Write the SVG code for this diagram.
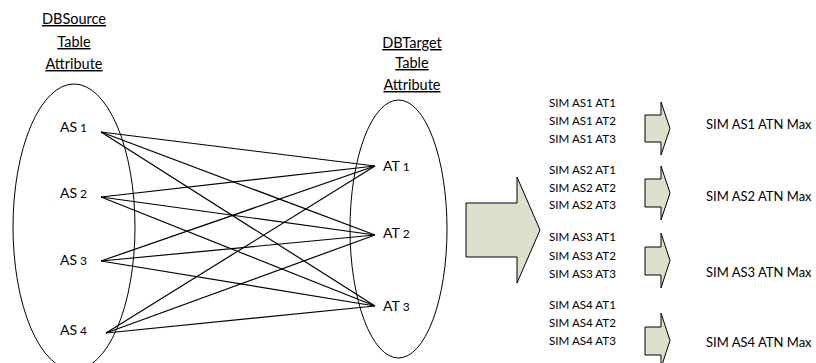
<svg xmlns="http://www.w3.org/2000/svg" width="816" height="363" viewBox="0 0 816 363">
  <style>
    .lbl { font-family: Lato, "Liberation Sans", sans-serif; fill: #000; }
    .head { font-size: 14.5px; text-decoration: underline; text-anchor: middle; }
    .node { font-size: 14px; }
    .num { font-size: 12px; }
    .sim { font-size: 11.6px; }
    .max { font-size: 13px; }
    .set { fill: none; stroke: #000; stroke-width: 1; }
    .link { stroke: #000; stroke-width: 1.2; fill: none; }
    .arrow { fill: #dde1cc; stroke: #000; stroke-width: 1; }
  </style>

  <!-- source attribute set -->
  <g id="source">
    <text class="lbl head" x="74" y="24">DBSource</text>
    <text class="lbl head" x="74" y="47">Table</text>
    <text class="lbl head" x="74" y="69">Attribute</text>
    <ellipse class="set" cx="74" cy="227" rx="61" ry="143"/>
  </g>
  <g id="AS1"><text class="lbl node" x="60" y="132">AS<tspan class="num" dx="3">1</tspan></text></g>
  <g id="AS2"><text class="lbl node" x="60" y="198">AS<tspan class="num" dx="3">2</tspan></text></g>
  <g id="AS3"><text class="lbl node" x="60" y="265">AS<tspan class="num" dx="3">3</tspan></text></g>
  <g id="AS4"><text class="lbl node" x="60" y="335">AS<tspan class="num" dx="3">4</tspan></text></g>

  <!-- target attribute set -->
  <g id="target">
    <text class="lbl head" x="412" y="48">DBTarget</text>
    <text class="lbl head" x="412" y="68">Table</text>
    <text class="lbl head" x="412" y="90">Attribute</text>
    <ellipse class="set" cx="398.5" cy="229" rx="48.5" ry="129"/>
  </g>
  <g id="AT1"><text class="lbl node" x="383" y="171">AT<tspan class="num" dx="3">1</tspan></text></g>
  <g id="AT2"><text class="lbl node" x="383" y="238">AT<tspan class="num" dx="3">2</tspan></text></g>
  <g id="AT3"><text class="lbl node" x="383" y="311">AT<tspan class="num" dx="3">3</tspan></text></g>

  <!-- every source attribute linked to every target attribute -->
  <g id="connectors">
    <line class="link" x1="101" y1="132" x2="375" y2="166"/>
    <line class="link" x1="101" y1="132" x2="375" y2="235"/>
    <line class="link" x1="101" y1="132" x2="375" y2="306"/>
    <line class="link" x1="101" y1="197" x2="375" y2="166"/>
    <line class="link" x1="101" y1="197" x2="375" y2="235"/>
    <line class="link" x1="101" y1="197" x2="375" y2="306"/>
    <line class="link" x1="101" y1="261" x2="375" y2="166"/>
    <line class="link" x1="101" y1="261" x2="375" y2="235"/>
    <line class="link" x1="101" y1="261" x2="375" y2="306"/>
    <line class="link" x1="106" y1="333" x2="375" y2="166"/>
    <line class="link" x1="106" y1="333" x2="375" y2="235"/>
    <line class="link" x1="106" y1="333" x2="375" y2="306"/>
  </g>

  <!-- block arrow into the similarity lists -->
  <g id="bigArrow">
    <path class="arrow" d="M466,203 H517 V177 L540,230 L517,283 V257 H466 Z"/>
  </g>

  <!-- similarity lists -->
  <g id="sim1">
    <text class="lbl sim" x="549" y="107">SIM AS1 AT1</text>
    <text class="lbl sim" x="549" y="125">SIM AS1 AT2</text>
    <text class="lbl sim" x="549" y="143">SIM AS1 AT3</text>
  </g>
  <g id="sim2">
    <text class="lbl sim" x="549" y="174">SIM AS2 AT1</text>
    <text class="lbl sim" x="549" y="192">SIM AS2 AT2</text>
    <text class="lbl sim" x="549" y="209">SIM AS2 AT3</text>
  </g>
  <g id="sim3">
    <text class="lbl sim" x="549" y="241">SIM AS3 AT1</text>
    <text class="lbl sim" x="549" y="260">SIM AS3 AT2</text>
    <text class="lbl sim" x="549" y="278">SIM AS3 AT3</text>
  </g>
  <g id="sim4">
    <text class="lbl sim" x="549" y="309">SIM AS4 AT1</text>
    <text class="lbl sim" x="549" y="327">SIM AS4 AT2</text>
    <text class="lbl sim" x="549" y="345">SIM AS4 AT3</text>
  </g>

  <!-- small arrows to the maxima -->
  <g id="arrow1"><path class="arrow" d="M645,115 H661 V102 L670,128.5 L661,155 V142 H645 Z"/></g>
  <g id="arrow2"><path class="arrow" d="M645,179 H661 V166 L670,193 L661,220 V207 H645 Z"/></g>
  <g id="arrow3"><path class="arrow" d="M645,247 H661 V233 L670,260.5 L661,288 V275 H645 Z"/></g>
  <g id="arrow4"><path class="arrow" d="M645,327 H661 V313 L670,340.5 L661,368 V355 H645 Z"/></g>

  <!-- maxima -->
  <g id="max1"><text class="lbl max" x="706" y="129">SIM AS1 ATN Max</text></g>
  <g id="max2"><text class="lbl max" x="706" y="201">SIM AS2 ATN Max</text></g>
  <g id="max3"><text class="lbl max" x="706" y="277">SIM AS3 ATN Max</text></g>
  <g id="max4"><text class="lbl max" x="706" y="347">SIM AS4 ATN Max</text></g>
</svg>
